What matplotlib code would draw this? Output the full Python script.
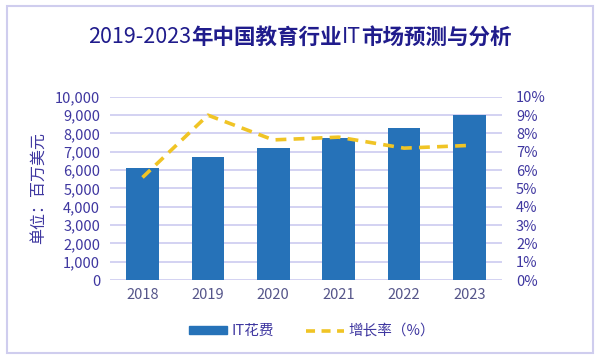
import matplotlib
matplotlib.use('Agg')
import matplotlib.pyplot as plt
from matplotlib.patches import Rectangle
from matplotlib.lines import Line2D
from matplotlib.ticker import FuncFormatter

plt.rcParams['font.family'] = ['Noto Sans CJK SC', 'DejaVu Sans']

years = ['2018', '2019', '2020', '2021', '2022', '2023']
it_spend = [6100, 6700, 7200, 7750, 8300, 9000]  # 百万美元
growth = [5.6, 9.0, 7.65, 7.8, 7.2, 7.35]  # %

# title pieces: (text, bold?)
title_parts = [('2019-2023', False), ('年中国教育行业', True), ('IT', False), ('市场预测与分析', True)]

bar_color = '#2672b8'
line_color = '#f0c425'
text_color = '#3f37a0'
grid_color = '#cccbf0'

fig = plt.figure(figsize=(6, 3.6), dpi=100)
ax = fig.add_axes([0.183, 0.222, 0.654, 0.509])

x = list(range(len(years)))
ax.bar(x, it_spend, width=0.5, color=bar_color, zorder=2)
ax.set_xlim(-0.5, 5.5)
ax.set_ylim(0, 10000)
ax.set_yticks(range(0, 10001, 1000))
ax.yaxis.set_major_formatter(FuncFormatter(lambda v, p: f'{int(v):,}'))
ax.set_xticks(x)
ax.set_xticklabels(years)
ax.grid(axis='y', color=grid_color, linewidth=1.2, zorder=0)
ax.tick_params(length=0, labelsize=10.5, labelcolor=text_color, pad=7)
ax.tick_params(axis='x', labelcolor='#55558a', pad=6)
for s in ax.spines.values():
  s.set_visible(False)
ax.set_ylabel('单位：百万美元', fontsize=11.5, color=text_color, labelpad=6)

ax2 = ax.twinx()
ax2.plot(x, growth, color=line_color, linewidth=2.6, linestyle=(0, (3, 2)), zorder=3)
ax2.set_ylim(0, 10)
ax2.set_yticks(range(0, 11))
ax2.yaxis.set_major_formatter(FuncFormatter(lambda v, p: f'{int(v)}%'))
ax2.tick_params(length=0, labelsize=10.5, labelcolor=text_color, pad=10)
for s in ax2.spines.values():
  s.set_visible(False)

# title with mixed weights, laid out piece by piece and centred
renderer = fig.canvas.get_renderer()
pieces = []
for txt, bold in title_parts:
  t = fig.text(0, 0.897, txt, ha='left', va='center', fontsize=15.5,
               fontweight='bold' if bold else 'normal', color='#201c8c')
  pieces.append(t)
widths = [p.get_window_extent(renderer).width / fig.bbox.width for p in pieces]
xpos = 0.5 - sum(widths) / 2
for p, w in zip(pieces, widths):
  p.set_x(xpos)
  xpos += w

handles = [Rectangle((0, 0), 1, 1, color=bar_color),
           Line2D([0], [0], color=line_color, linewidth=2.6, linestyle=(0, (2.5, 1.8)))]
fig.legend(handles, ['IT花费', '增长率（%）'], loc='center', bbox_to_anchor=(0.52, 0.08),
           ncol=2, frameon=False, fontsize=10.5, labelcolor=text_color,
           handlelength=2.6, handleheight=0.5, columnspacing=2.2, handletextpad=0.3)

# light frame around the whole chart
fig.patches.append(Rectangle((0.012, 0.02), 0.976, 0.962, transform=fig.transFigure,
                             fill=False, edgecolor='#cfcdee', linewidth=1.5))

fig.savefig('out.png', dpi=100)
